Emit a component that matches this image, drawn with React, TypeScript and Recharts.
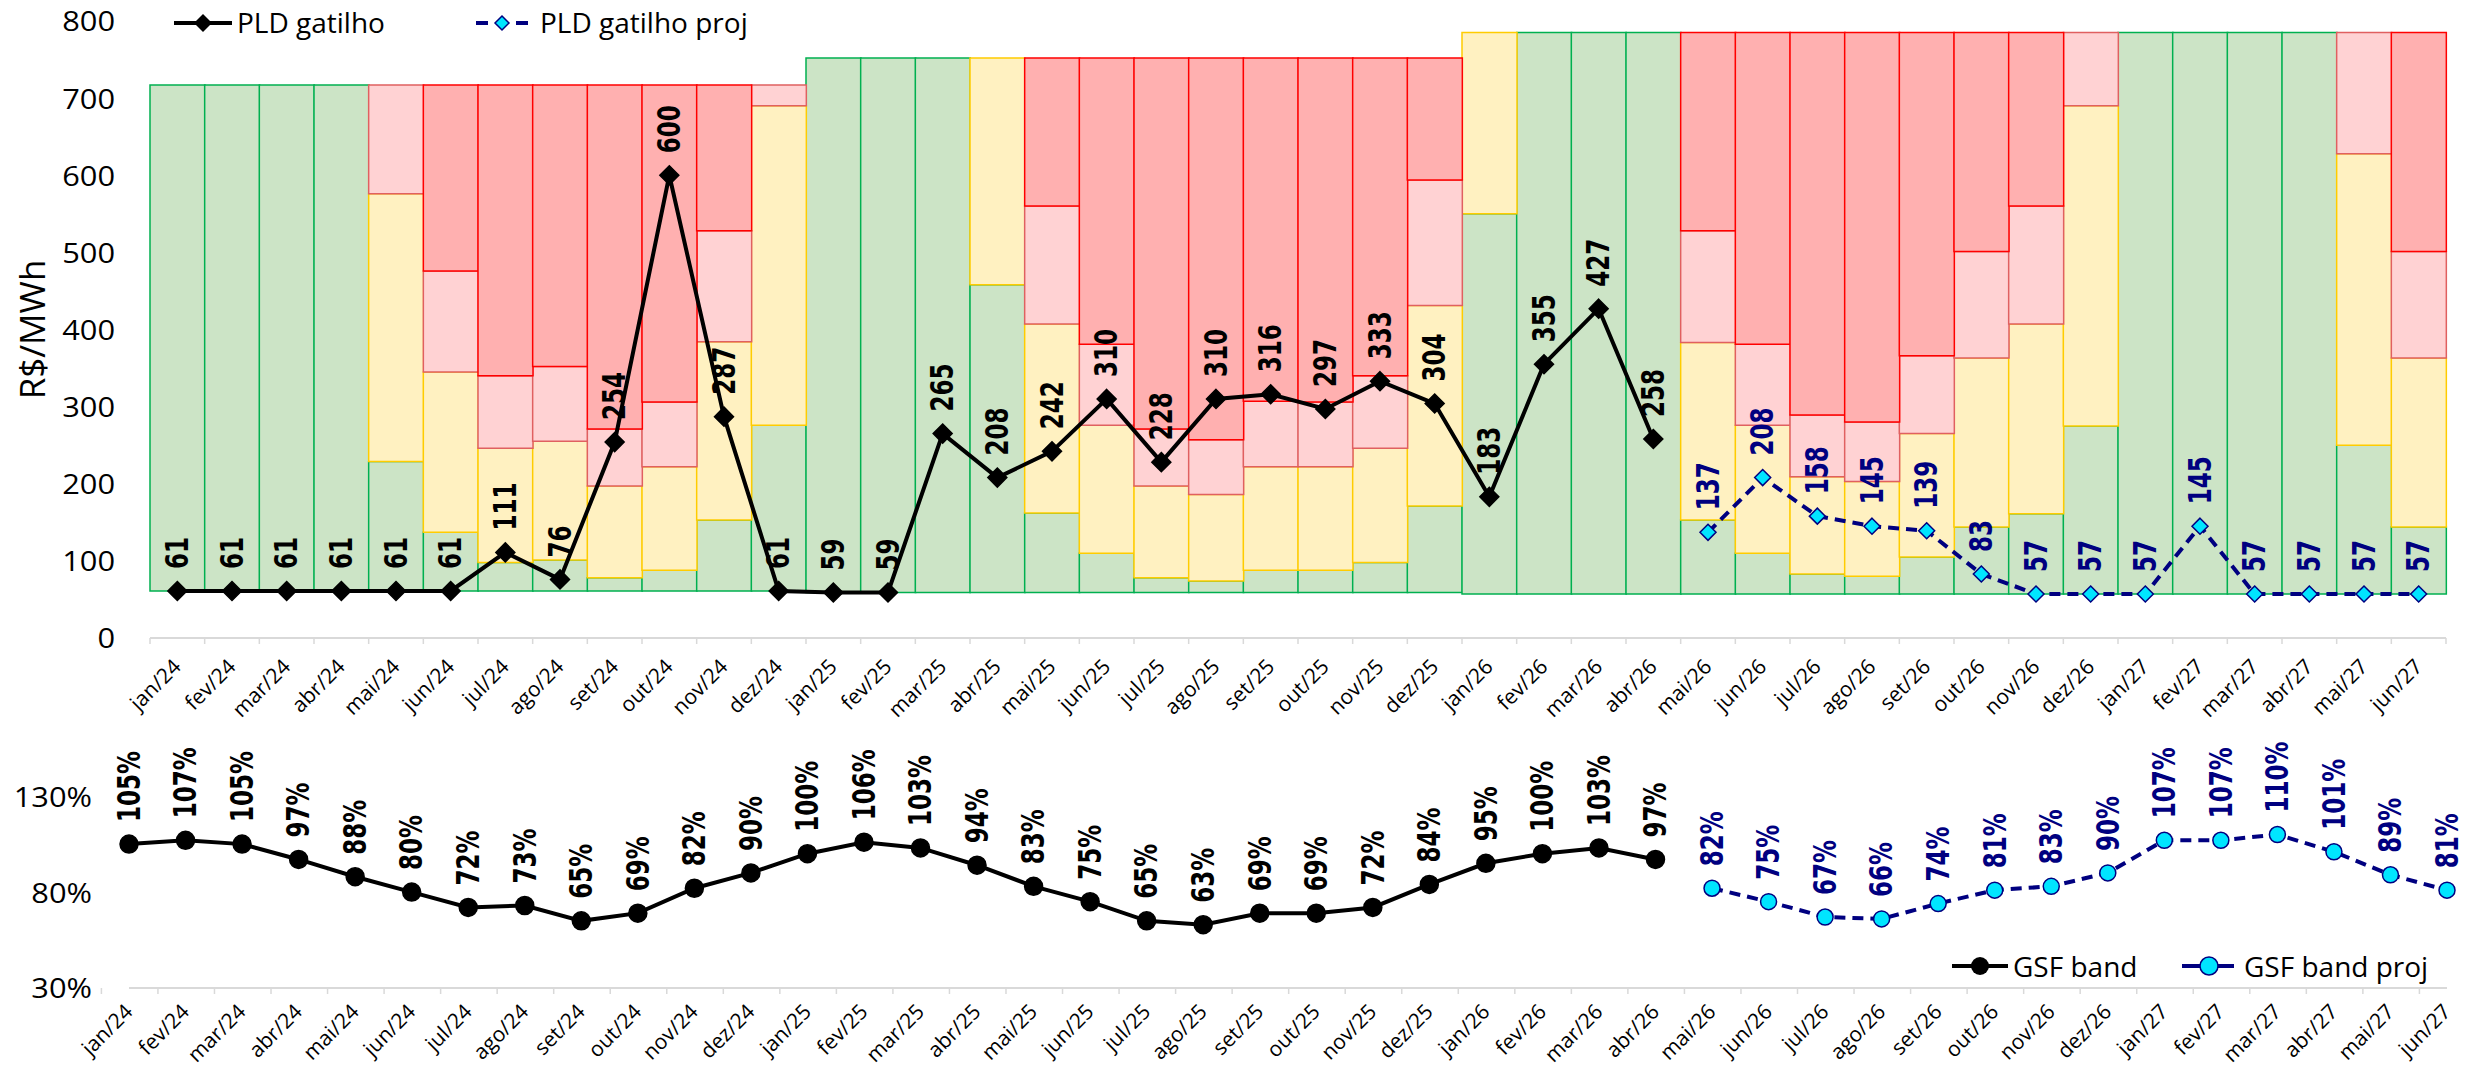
import React from "react";
import { ComposedChart, Bar, Line, XAxis, YAxis, LabelList } from "recharts";

// ---- data ----
const MONTHS = [
  "jan/24", "fev/24", "mar/24", "abr/24", "mai/24", "jun/24", "jul/24", "ago/24", "set/24", "out/24", "nov/24", "dez/24",
  "jan/25", "fev/25", "mar/25", "abr/25", "mai/25", "jun/25", "jul/25", "ago/25", "set/25", "out/25", "nov/25", "dez/25",
  "jan/26", "fev/26", "mar/26", "abr/26", "mai/26", "jun/26", "jul/26", "ago/26", "set/26", "out/26", "nov/26", "dez/26",
  "jan/27", "fev/27", "mar/27", "abr/27", "mai/27", "jun/27",
];

// PLD floor / ceiling per month (R$/MWh)
const FLOOR = [
  61, 61, 61, 61, 61, 61, 61, 61, 61, 61, 61, 61,
  59, 59, 59, 59, 59, 59, 59, 59, 59, 59, 59, 59,
  57, 57, 57, 57, 57, 57, 57, 57, 57, 57, 57, 57,
  57, 57, 57, 57, 57, 57,
];
const CEILING = [
  717, 717, 717, 717, 717, 717, 717, 717, 717, 717, 717, 717,
  752, 752, 752, 752, 752, 752, 752, 752, 752, 752, 752, 752,
  785, 785, 785, 785, 785, 785, 785, 785, 785, 785, 785, 785,
  785, 785, 785, 785, 785, 785,
];
// upper edge of each band
const GREEN_TOP = [
  717, 717, 717, 717, 229, 137, 98, 101, 78, 88, 153, 276,
  752, 752, 752, 458, 162, 110, 78, 74, 88, 88, 98, 171,
  550, 785, 785, 785, 153, 110, 83, 80, 105, 144, 161, 275,
  785, 785, 785, 785, 250, 144,
];
const YELLOW_TOP = [
  717, 717, 717, 717, 576, 345, 246, 255, 197, 222, 384, 690,
  752, 752, 752, 752, 407, 276, 197, 186, 222, 222, 246, 431,
  785, 785, 785, 785, 383, 276, 209, 203, 265, 363, 407, 690,
  785, 785, 785, 785, 628, 363,
];
const PINK_TOP = [
  717, 717, 717, 717, 717, 476, 340, 352, 271, 306, 528, 717,
  752, 752, 752, 752, 560, 381, 271, 257, 307, 306, 340, 594,
  785, 785, 785, 785, 528, 381, 289, 280, 366, 501, 560, 785,
  785, 785, 785, 785, 785, 501,
];

const PLD = [
  61, 61, 61, 61, 61, 61, 111, 76, 254, 600, 287, 61,
  59, 59, 265, 208, 242, 310, 228, 310, 316, 297, 333, 304,
  183, 355, 427, 258,
];
const PLD_PROJ = [137, 208, 158, 145, 139, 83, 57, 57, 57, 145, 57, 57, 57, 57];

const GSF = [
  105, 107, 105, 97, 88, 80, 72, 73, 65, 69, 82, 90,
  100, 106, 103, 94, 83, 75, 65, 63, 69, 69, 72, 84,
  95, 100, 103, 97,
];
const GSF_PROJ = [82, 75, 67, 66, 74, 81, 83, 90, 107, 107, 110, 101, 89, 81];

const PRICE_TICKS = [0, 100, 200, 300, 400, 500, 600, 700, 800];
const GSF_TICKS = [30, 80, 130];

const N_ACT = PLD.length;

const priceData = MONTHS.map((m, i) => ({
  month: m,
  base: FLOOR[i],
  green: GREEN_TOP[i] - FLOOR[i],
  yellow: YELLOW_TOP[i] - GREEN_TOP[i],
  pink: PINK_TOP[i] - YELLOW_TOP[i],
  red: CEILING[i] - PINK_TOP[i],
  pld: i < N_ACT ? PLD[i] : null,
  pldProj: i >= N_ACT ? PLD_PROJ[i - N_ACT] : null,
}));

const gsfData = MONTHS.map((m, i) => ({
  month: m,
  gsf: i < N_ACT ? GSF[i] : null,
  gsfProj: i >= N_ACT ? GSF_PROJ[i - N_ACT] : null,
}));

// ---- layout / style ----
const W = 2466;
const FONT = "'Open Sans', sans-serif";
const LABEL_FONT = "'DejaVu Sans', sans-serif";
const NAVY = "#000080";
const CYAN = "#00e5ff";
const AXIS = "#d9d9d9";

const TOP_H = 728;
const TOP_AXIS_Y = 638;
const TOP_M = { top: 21, right: 20, bottom: 0, left: 0 };
const TOP_YW = 150;
const TOP_BAND = (W - TOP_M.right - TOP_YW) / MONTHS.length;

const BOT_Y = 728;
const BOT_H = 1069 - BOT_Y;
const BOT_AXIS_Y = 988;
const BOT_M = { top: 1, right: 19, bottom: 0, left: 0 };
const BOT_YW = 129;
const BOT_BAND = (W - BOT_M.right - BOT_YW) / MONTHS.length;

const monthTick = (band: number, dy: number) => (props: any) => {
  const { x, y, payload, index } = props;
  const ax = x + 5;
  const ay = y + dy;
  return (
    <g>
      <line x1={x - band / 2} y1={y} x2={x - band / 2} y2={y + 6} stroke={AXIS} strokeWidth={1.5} />
      {index === MONTHS.length - 1 && (
        <line x1={x + band / 2} y1={y} x2={x + band / 2} y2={y + 6} stroke={AXIS} strokeWidth={1.5} />
      )}
      <text
        x={ax}
        y={ay}
        transform={`rotate(-45, ${ax}, ${ay})`}
        textAnchor="end"
        fontFamily={FONT}
        fontSize={21}
        fill="#000"
      >
        {payload.value}
      </text>
    </g>
  );
};

const valueTick = (suffix: string) => (props: any) => {
  const { x, y, payload } = props;
  return (
    <text
      transform={`translate(${x},${y}) scale(1.1,1)`}
      textAnchor="end"
      dominantBaseline="central"
      fontFamily={FONT}
      fontSize={28}
      fill="#000"
    >
      {payload.value}
      {suffix}
    </text>
  );
};

const vLabel = (color: string, suffix: string) => (props: any) => {
  const { x, y, value } = props;
  if (value == null || x == null || y == null) return null;
  return (
    <text
      transform={`translate(${x},${y - 22}) rotate(-90) scale(1,1.35)`}
      textAnchor="start"
      dominantBaseline="central"
      fontFamily={LABEL_FONT}
      fontWeight="bold"
      fontSize={23}
      fill={color}
    >
      {value}
      {suffix}
    </text>
  );
};

const diamondDot = (w: number, h: number, fill: string, stroke: string) => (props: any) => {
  const { cx, cy, index } = props;
  if (cx == null || cy == null) return <g key={index} />;
  return (
    <path
      key={index}
      d={`M${cx},${cy - h / 2} L${cx + w / 2},${cy} L${cx},${cy + h / 2} L${cx - w / 2},${cy} Z`}
      fill={fill}
      stroke={stroke}
      strokeWidth={1.5}
    />
  );
};

const circleDot = (r: number, fill: string, stroke: string) => (props: any) => {
  const { cx, cy, index } = props;
  if (cx == null || cy == null) return <g key={index} />;
  return <circle key={index} cx={cx} cy={cy} r={r} fill={fill} stroke={stroke} strokeWidth={1.5} />;
};

const unitLabel = (props: any) => {
  const vb = props.viewBox || {};
  const cx = 31;
  const cy = (vb.y ?? 21) + (vb.height ?? 617) / 2;
  return (
    <text
      transform={`translate(${cx},${cy}) rotate(-90)`}
      textAnchor="middle"
      dominantBaseline="central"
      fontFamily={FONT}
      fontSize={35}
      fill="#000"
    >
      R$/MWh
    </text>
  );
};

const BANDS = [
  { key: "green", fill: "#cce4c6", stroke: "#00b050" },
  { key: "yellow", fill: "#fff1c1", stroke: "#ffcc00" },
  { key: "pink", fill: "#ffd2d3", stroke: "#e06060" },
  { key: "red", fill: "#ffb0b0", stroke: "#ff0000" },
];

const legendText: React.CSSProperties = {
  position: "absolute",
  fontFamily: FONT,
  fontSize: 28,
  lineHeight: "36px",
  color: "#000",
  whiteSpace: "nowrap",
};

function Legends() {
  return (
    <>
      {/* top legend */}
      <svg style={{ position: "absolute", left: 172, top: 12 }} width={62} height={22}>
        <line x1={2} y1={11} x2={60} y2={11} stroke="#000" strokeWidth={4} />
        <path d="M31,2 L40,11 L31,20 L22,11 Z" fill="#000" />
      </svg>
      <div style={{ ...legendText, left: 237, top: 4 }}>PLD gatilho</div>
      <svg style={{ position: "absolute", left: 474, top: 12 }} width={58} height={22}>
        <line x1={2} y1={11} x2={14} y2={11} stroke={NAVY} strokeWidth={4} />
        <line x1={42} y1={11} x2={54} y2={11} stroke={NAVY} strokeWidth={4} />
        <path d="M28,4 L35,11 L28,18 L21,11 Z" fill={CYAN} stroke={NAVY} strokeWidth={1.5} />
      </svg>
      <div style={{ ...legendText, left: 540, top: 4 }}>PLD gatilho proj</div>

      {/* bottom legend */}
      <svg style={{ position: "absolute", left: 1950, top: 955 }} width={60} height={22}>
        <line x1={2} y1={11} x2={58} y2={11} stroke="#000" strokeWidth={4} />
        <circle cx={30} cy={11} r={9} fill="#000" />
      </svg>
      <div style={{ ...legendText, left: 2013, top: 948 }}>GSF band</div>
      <svg style={{ position: "absolute", left: 2180, top: 955 }} width={56} height={22}>
        <line x1={2} y1={11} x2={54} y2={11} stroke={NAVY} strokeWidth={4} />
        <circle cx={29} cy={11} r={9} fill={CYAN} stroke={NAVY} strokeWidth={1.5} />
      </svg>
      <div style={{ ...legendText, left: 2244, top: 948 }}>GSF band proj</div>
    </>
  );
}

export default function App() {
  return (
    <div style={{ position: "absolute", left: 0, top: 0, width: W, height: 1069, background: "#fff", overflow: "hidden" }}>
      <div style={{ position: "absolute", left: 0, top: 0, width: W, height: TOP_H }}>
        <ComposedChart
          width={W}
          height={TOP_H}
          data={priceData}
          margin={TOP_M}
          barCategoryGap={0}
          barGap={0}
        >
          <XAxis
            dataKey="month"
            interval={0}
            height={TOP_H - TOP_AXIS_Y}
            tickSize={0}
            tickMargin={0}
            tickLine={false}
            axisLine={{ stroke: AXIS, strokeWidth: 2 }}
            tick={monthTick(TOP_BAND, 30)}
          />
          <YAxis
            width={TOP_YW}
            domain={[0, 800]}
            ticks={PRICE_TICKS}
            axisLine={false}
            tickLine={false}
            tickSize={0}
            tickMargin={35}
            tick={valueTick("")}
            label={{ content: unitLabel }}
          />
          <Bar dataKey="base" stackId="b" fill="transparent" isAnimationActive={false} />
          {BANDS.map((b) => (
            <Bar
              key={b.key}
              dataKey={b.key}
              stackId="b"
              fill={b.fill}
              stroke={b.stroke}
              strokeWidth={1.5}
              isAnimationActive={false}
            />
          ))}
          <Line
            dataKey="pld"
            stroke="#000"
            strokeWidth={4}
            dot={diamondDot(19, 19, "#000", "#000")}
            activeDot={false}
            connectNulls={false}
            isAnimationActive={false}
          >
            <LabelList dataKey="pld" content={vLabel("#000", "")} />
          </Line>
          <Line
            dataKey="pldProj"
            stroke={NAVY}
            strokeWidth={4}
            strokeDasharray="11 7"
            dot={diamondDot(16, 16, CYAN, NAVY)}
            activeDot={false}
            connectNulls={false}
            isAnimationActive={false}
          >
            <LabelList dataKey="pldProj" content={vLabel(NAVY, "")} />
          </Line>
        </ComposedChart>
      </div>

      <div style={{ position: "absolute", left: 0, top: BOT_Y, width: W, height: BOT_H }}>
        <ComposedChart width={W} height={BOT_H} data={gsfData} margin={BOT_M}>
          <XAxis
            dataKey="month"
            interval={0}
            height={BOT_H - (BOT_AXIS_Y - BOT_Y)}
            tickSize={0}
            tickMargin={0}
            tickLine={false}
            axisLine={{ stroke: AXIS, strokeWidth: 2 }}
            tick={monthTick(BOT_BAND, 25)}
          />
          <YAxis
            width={BOT_YW}
            domain={[30, 165]}
            ticks={GSF_TICKS}
            axisLine={false}
            tickLine={false}
            tickSize={0}
            tickMargin={37}
            tick={valueTick("%")}
          />
          <Line
            dataKey="gsf"
            stroke="#000"
            strokeWidth={4}
            dot={circleDot(9, "#000", "#000")}
            activeDot={false}
            connectNulls={false}
            isAnimationActive={false}
          >
            <LabelList dataKey="gsf" content={vLabel("#000", "%")} />
          </Line>
          <Line
            dataKey="gsfProj"
            stroke={NAVY}
            strokeWidth={4}
            strokeDasharray="11 7"
            dot={circleDot(8, CYAN, NAVY)}
            activeDot={false}
            connectNulls={false}
            isAnimationActive={false}
          >
            <LabelList dataKey="gsfProj" content={vLabel(NAVY, "%")} />
          </Line>
        </ComposedChart>
      </div>

      <Legends />
    </div>
  );
}
